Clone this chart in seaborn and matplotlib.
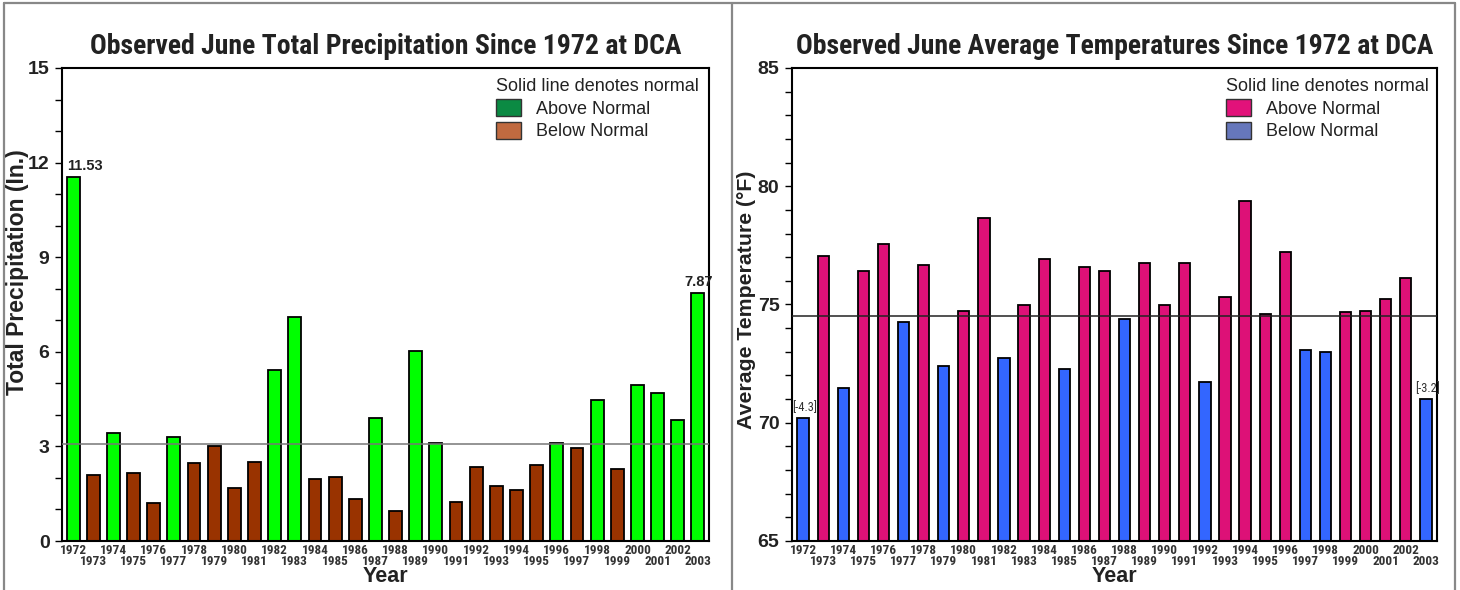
import matplotlib
matplotlib.use("Agg")
import matplotlib.pyplot as plt
from matplotlib.patches import Patch
from matplotlib.lines import Line2D
from matplotlib.ticker import MultipleLocator
import seaborn as sns
import pandas as pd

sns.set_theme(style="ticks")
plt.rcParams['font.family'] = ['Liberation Sans', 'DejaVu Sans']

years = list(range(1972, 2004))
precip = [11.53, 2.10, 3.42, 2.17, 1.20, 3.29, 2.46, 3.00, 1.67, 2.52,
          5.41, 7.10, 1.97, 2.04, 1.32, 3.91, 0.95, 6.02, 3.12, 1.25,
          2.34, 1.74, 1.61, 2.41, 3.12, 2.94, 4.46, 2.28, 4.94, 4.69,
          3.84, 7.87]
precip_normal = 3.09
temps = [70.2, 77.05, 71.45, 76.43, 77.54, 74.26, 76.66, 72.41, 74.73, 78.67,
         72.75, 74.97, 76.91, 72.27, 76.58, 76.43, 74.4, 76.74, 74.97, 76.74,
         71.71, 75.31, 79.38, 74.6, 77.23, 73.07, 72.99, 74.67, 74.71, 75.23,
         76.13, 71.0]
temp_normal = 74.5
temp_notes = {1972: "[-4.3]", 2003: "[-3.2]"}

narrow = ['Liberation Sans Narrow', 'Roboto Condensed', 'Noto Sans Condensed',
          'Open Sans Condensed', 'Liberation Sans', 'DejaVu Sans']

fig = plt.figure(figsize=(14.6, 5.9), dpi=100)
axL = fig.add_axes([62/1460, 49/590, 647/1460, 473/590])
axR = fig.add_axes([792/1460, 49/590, 645/1460, 473/590])

def draw(ax, vals, normal, colors, width, ylim, major, title, ylabel, ylsize, ylxy,
         legcolors, legx, normal_color):
    df = pd.DataFrame({"year": [str(y) for y in years], "val": vals})
    df["cat"] = ["Above" if v > normal else "Below" for v in vals]
    bottom = ylim[0]
    df["h"] = df["val"] - bottom
    sns.barplot(data=df, x="year", y="h", hue="cat", palette=colors, dodge=False,
                width=width, edgecolor="black", linewidth=1.3, legend=False,
                ax=ax, bottom=bottom, saturation=1)
    ax.set_ylim(*ylim)
    ax.set_xlim(-0.55, len(years) - 0.45)
    ax.axhline(normal, color=normal_color, lw=1.1, zorder=3)
    ax.yaxis.set_major_locator(MultipleLocator(major))
    ax.yaxis.set_minor_locator(MultipleLocator(1))
    ax.tick_params(axis='y', which='both', direction='out', length=5, width=1, color='black')
    ax.tick_params(axis='y', labelsize=14, pad=4)
    for lab in ax.get_yticklabels():
        lab.set_fontweight('bold')
        lab.set_color('#222222')
    idx = list(range(len(years)))
    ax.set_xticks(idx[0::2])
    ax.set_xticklabels([str(years[i]) for i in idx[0::2]], fontsize=9.5,
                       fontweight='bold', family=narrow, fontstretch='condensed',
                       color='#333333')
    ax.set_xticks(idx[1::2], minor=True)
    ax.set_xticklabels([str(years[i]) for i in idx[1::2]], minor=True, fontsize=9.5,
                       fontweight='bold', family=narrow, fontstretch='condensed',
                       color='#333333')
    ax.tick_params(axis='x', which='major', length=0, pad=2)
    ax.tick_params(axis='x', which='minor', length=0, pad=10)
    for s in ax.spines.values():
        s.set_visible(True)
        s.set_color('black')
        s.set_linewidth(1.5)
    ax.set_title(title, fontsize=20, fontweight='bold', family=narrow,
                 fontstretch='condensed', pad=10, color='#222222')
    ax.set_ylabel(ylabel, fontsize=ylsize, fontweight='bold', color='#222222')
    ax.yaxis.label.set_va('center')
    ax.yaxis.set_label_coords(*ylxy)
    ax.set_xlabel("Year", fontsize=15.5, fontweight='bold', color='#222222', labelpad=-1)
    handles = [Patch(facecolor=legcolors[0], edgecolor='#333333', label="Above Normal"),
               Patch(facecolor=legcolors[1], edgecolor='#333333', label="Below Normal")]
    leg = ax.legend(handles=handles, title="Solid line denotes normal", loc='upper right',
                    bbox_to_anchor=(legx, 1.002), frameon=False, fontsize=13,
                    title_fontsize=13, handlelength=1.4, handleheight=1.1,
                    labelspacing=0.22, handletextpad=0.8, borderaxespad=0.2)
    leg._legend_box.align = "left"
    for t in leg.get_texts():
        t.set_color('#222222')
    leg.get_title().set_color('#222222')

draw(axL, precip, precip_normal, {"Above": "#00ff00", "Below": "#993300"}, 0.64,
     (0, 15), 3, "Observed June Total Precipitation Since 1972 at DCA",
     "Total Precipitation (In.)", 16.5, ((18 - 62) / 647, (541 - 272) / 473),
     ("#0b8a43", "#c06a40"), 1.001, '#777777')
draw(axR, temps, temp_normal, {"Above": "#dd1177", "Below": "#3366ff"}, 0.56,
     (65, 85), 5, "Observed June Average Temperatures Since 1972 at DCA",
     "Average Temperature (°F)", 15.3, ((747 - 792) / 645, (541 - 300) / 473),
     ("#e2127a", "#6677bb"), 1.004, '#222222')

# value annotations
axL.annotate(f"{precip[0]:.2f}", xy=(0 - 0.32, precip[0]), xytext=(0, 3),
             textcoords='offset points', ha='left', va='bottom', fontsize=10.5,
             fontweight='bold', color='#222222', annotation_clip=False)
axL.annotate(f"{precip[-1]:.2f}", xy=(len(years) - 1 + 0.35, precip[-1]), xytext=(6, 3),
             textcoords='offset points', ha='right', va='bottom', fontsize=10.5,
             fontweight='bold', color='#222222', annotation_clip=False)
for yr, txt in temp_notes.items():
    i = years.index(yr)
    axR.annotate(txt, xy=(i, temps[i]), xytext=(1, 3), textcoords='offset points',
                 ha='center', va='bottom', fontsize=9, family=narrow,
                 fontstretch='condensed', color='#333333', annotation_clip=False)

# panel frame lines
for x in (4/1460, 732/1460, 1455/1460):
    fig.add_artist(Line2D([x, x], [0, 1 - 3/590], color='#888888', lw=1.6))
fig.add_artist(Line2D([4/1460, 1455/1460], [1 - 3/590, 1 - 3/590], color='#888888', lw=1.6))

fig.savefig("out.png", dpi=100)
